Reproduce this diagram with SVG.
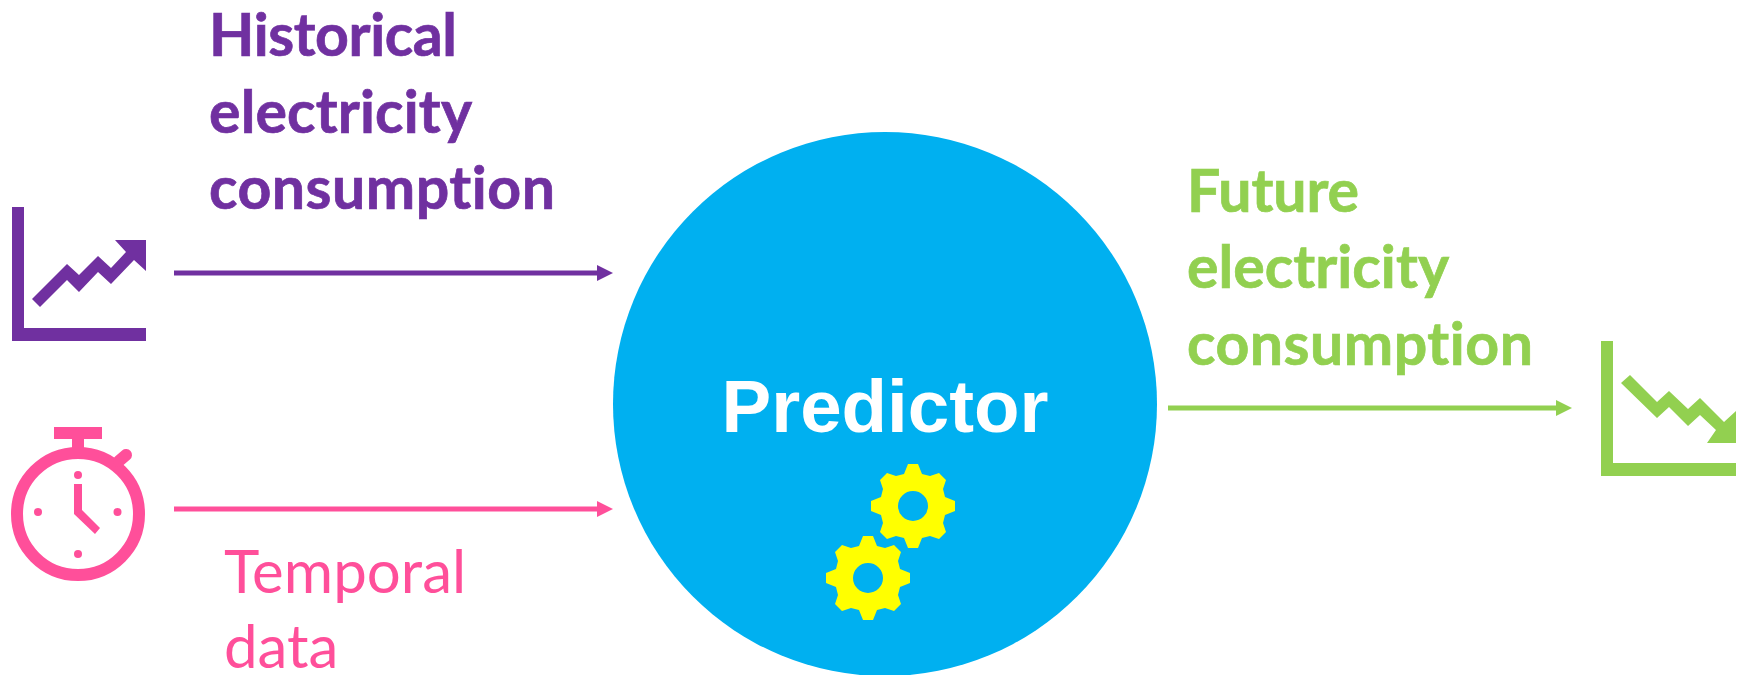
<svg xmlns="http://www.w3.org/2000/svg" width="1746" height="675" viewBox="0 0 1746 675">
<defs>
<path id="gear" fill-rule="evenodd" fill="#ffff00" d="M-5-42H5L9-32 17-30 26-33 33-26 30-17 32-9 42-5V5L32 9 30 17 33 26 26 33 17 30 9 32 5 42H-5L-9 32-17 30-26 33-33 26-30 17-32 9-42 5V-5L-32-9-30-17-33-26-26-33-17-30-9-32ZM0-15A15 15 0 1 0 0 15 15 15 0 1 0 0-15Z"/>
</defs>
<style>
text{font-family:Lato,"Open Sans",sans-serif;font-variant-ligatures:none}
.b{font-weight:700;font-size:59px;stroke-width:.7}
.t{font-size:60px}
.p{fill:#7030a0}.g{fill:#92d050}.k{fill:#ff4f9a}
text.p{stroke:#7030a0}text.g{stroke:#92d050}
.l{stroke-width:5;fill:none}
</style>
<rect width="1746" height="675" fill="#fff"/>
<g id="connectors">
<path class="l" stroke="#7030a0" d="M174 273H600"/><path class="p" d="M597 265L613 273 597 281Z"/>
<path class="l" stroke="#ff4f9a" d="M174 509H600"/><path class="k" d="M597 501L613 509 597 517Z"/>
<path class="l" stroke="#92d050" d="M1168 408H1558"/><path class="g" d="M1556 400L1572 408 1556 416Z"/>
</g>
<g id="predictor">
<circle cx="885" cy="404" r="272" fill="#00b0f0"/>
<text x="885" y="432" text-anchor="middle" font-size="74.5" font-weight="700" fill="#fff" style="font-family:'Liberation Sans',sans-serif">Predictor</text>
<use href="#gear" x="913" y="506"/>
<use href="#gear" x="868" y="578"/>
</g>
<g id="historical">
<path class="p" d="M12 207H24V328H146V341H12Z"/>
<path class="p" d="M32 299L67 264 79 275 98 256 111 268 126 252 115 240H146V271L134 260 111 284 98 272 79 292 67 280 40 307Z"/>
<text class="b p" x="209" y="56" textLength="248">Historical</text>
<text class="b p" x="209" y="133" textLength="263">electricity</text>
<text class="b p" x="209" y="209" textLength="346">consumption</text>
</g>
<g id="temporal">
<circle cx="78" cy="514" r="61" fill="none" stroke="#ff4f9a" stroke-width="12"/>
<path class="k" d="M54 427H102V439H84V452H72V439H54Z"/>
<path d="M119 461L126 455" stroke="#ff4f9a" stroke-width="12" stroke-linecap="round"/>
<path class="k" d="M74 484H82V510L100 528 95 534 74 514Z"/>
<circle class="k" cx="78" cy="475" r="4"/><circle class="k" cx="78" cy="554" r="4"/><circle class="k" cx="38" cy="512" r="4"/><circle class="k" cx="117.500" cy="512" r="4"/>
<text class="t k" x="224" y="593">Temporal</text>
<text class="t k" x="224" y="668">data</text>
</g>
<g id="future">
<path class="g" d="M1601 341H1613V463H1736V476H1601Z"/>
<path class="g" d="M1621 383L1630 375 1657 402 1669 391 1688 409 1700 398 1724 422 1736 411V443H1707L1716 430 1700 415 1688 426 1669 407 1657 418Z"/>
<text class="b g" x="1187" y="212" textLength="172">Future</text>
<text class="b g" x="1187" y="288" textLength="262">electricity</text>
<text class="b g" x="1187" y="365" textLength="346">consumption</text>
</g>
</svg>
